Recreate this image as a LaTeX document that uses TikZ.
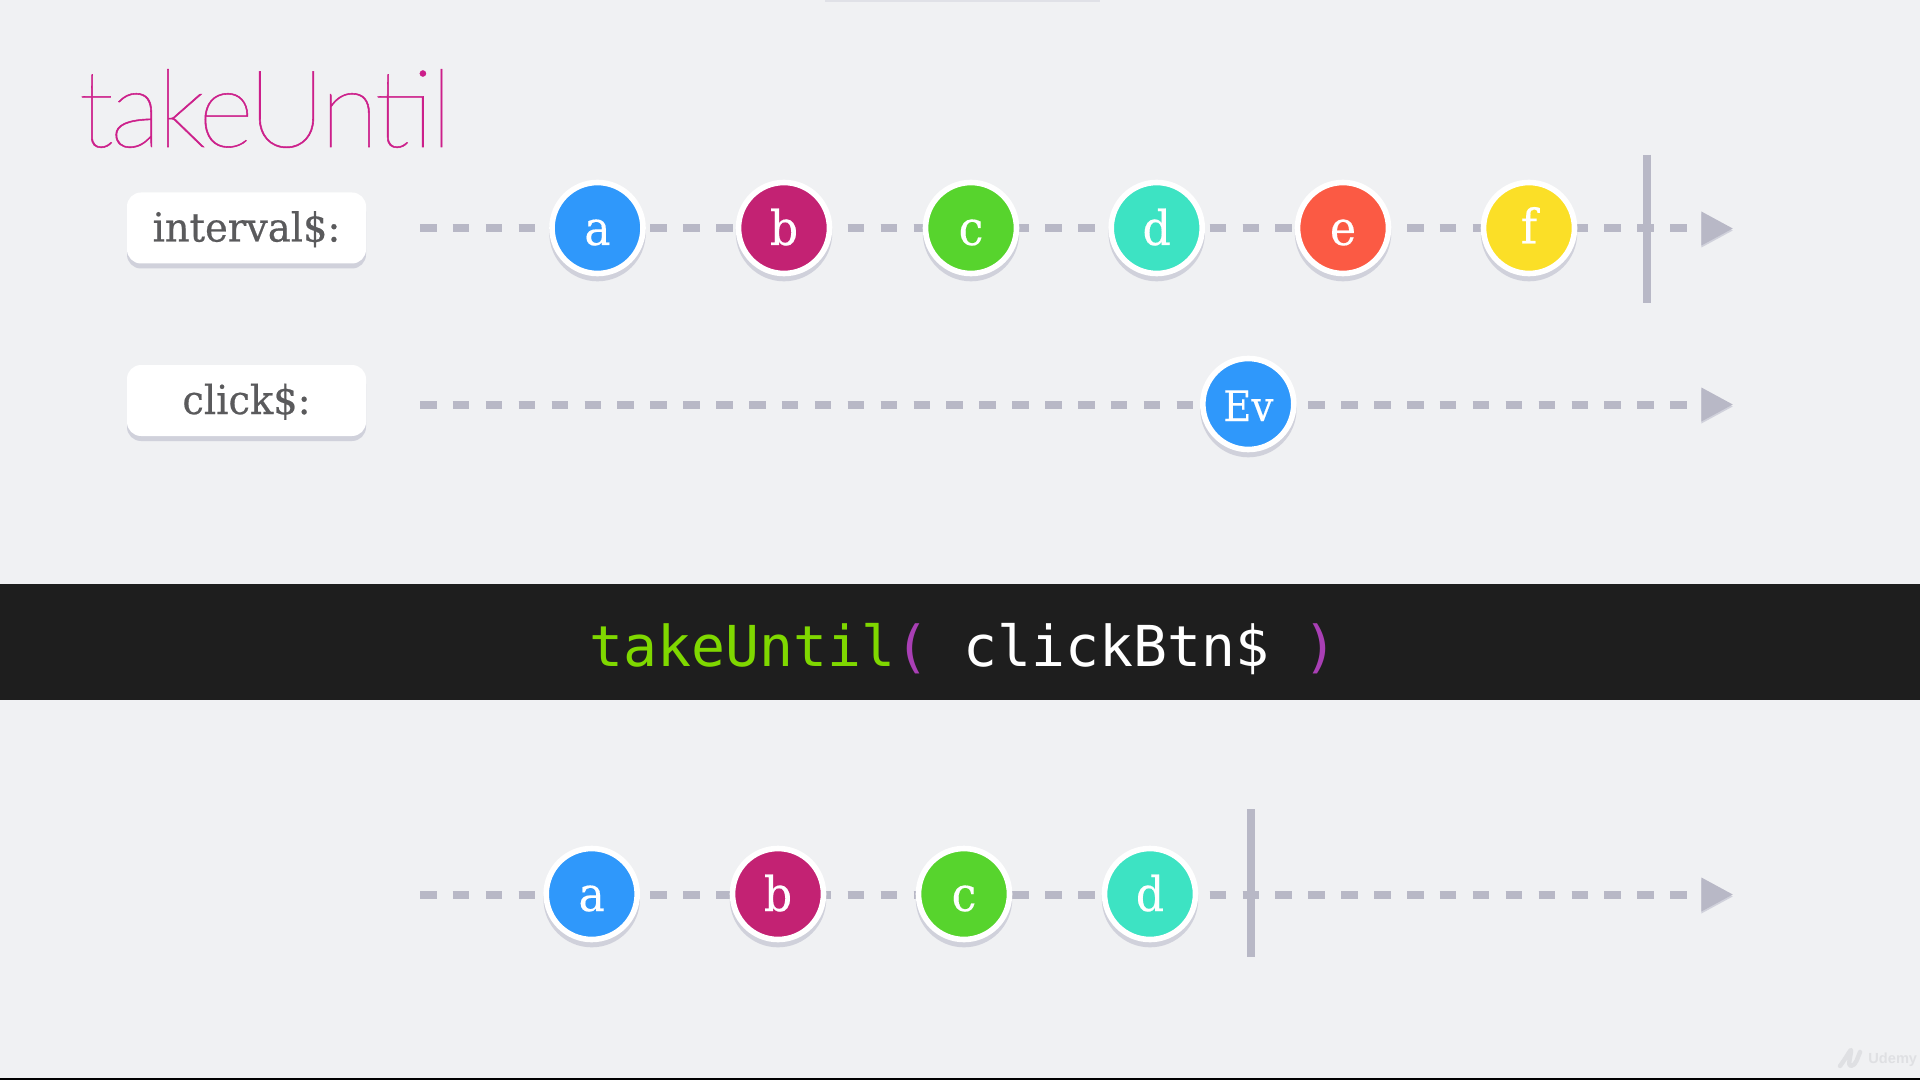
\documentclass[tikz,border=0pt]{standalone}
\usepackage{fontspec}
\usetikzlibrary{shapes.geometric,shadows}
\newfontfamily\thinfont[FakeBold=0.5,LetterSpace=-3.6]{Lato Hairline}
\newfontfamily\slabfont[FakeStretch=0.96,FakeBold=0.5]{DejaVu Serif}
\newfontfamily\marblefont[FakeStretch=0.92,FakeBold=0.3]{DejaVu Serif}
\newfontfamily\codefont{DejaVu Sans Mono}
\newfontfamily\wmfont{Liberation Sans}
\definecolor{bg}{HTML}{F0F1F3}
\definecolor{lineg}{HTML}{B8B8C6}
\definecolor{lineshadow}{HTML}{D0D1DB}
\definecolor{cblue}{HTML}{2F98FB}
\definecolor{cmag}{HTML}{C32273}
\definecolor{cgreen}{HTML}{57D42D}
\definecolor{cteal}{HTML}{3DE3C3}
\definecolor{cred}{HTML}{FB5A44}
\definecolor{cyellow}{HTML}{FBDF27}
\definecolor{band}{HTML}{1E1E1E}
\definecolor{codegreen}{HTML}{7FD800}
\definecolor{codepurple}{HTML}{A93FB5}
\definecolor{titlec}{HTML}{CC1F8A}
\definecolor{labeltext}{HTML}{5A5A5C}
\definecolor{wmark}{HTML}{DFE0E3}
\tikzset{
  marble/.style={circle,draw=white,line width=2.8pt,fill=#1,minimum size=45.5pt,inner sep=0pt,
    text=white,font=\marblefont\fontsize{24}{24}\selectfont,text height=17pt,text depth=0pt,align=center,
    drop shadow={shadow xshift=0pt,shadow yshift=-2.4pt,shadow scale=1.06,fill=lineshadow,opacity=1}},
  namebox/.style={rounded corners=7pt,fill=white,minimum width=119.5pt,minimum height=35.5pt,inner sep=0pt,
    text=labeltext,font=\slabfont\fontsize{20}{21}\selectfont,text height=13.5pt,text depth=0pt,
    drop shadow={shadow xshift=0pt,shadow yshift=-2.5pt,fill=lineshadow,opacity=1}},
  dashline/.style={line width=4pt,draw=lineg,dash pattern=on 8.25pt off 8.2pt},
  dashshadow/.style={line width=4pt,draw=lineshadow,dash pattern=on 8.25pt off 8.2pt,yshift=-1pt},
  tip/.style={isosceles triangle,isosceles triangle apex angle=57,fill=lineg,inner sep=0pt,
    minimum height=15.5pt,minimum width=17pt,anchor=west,
    drop shadow={shadow xshift=0pt,shadow yshift=-1pt,fill=lineshadow,opacity=1}},
  stopbar/.style={line width=4pt,draw=lineg},
  stopshadow/.style={line width=4pt,draw=lineshadow,yshift=-1pt},
}
\begin{document}
\begin{tikzpicture}[x=0.5pt,y=-0.5pt]
\useasboundingbox (0,0) rectangle (1920,1080);
\fill[bg] (0,0) rectangle (1920,1080);
\fill[lineshadow!50!bg] (825,0) rectangle (1100,2);
\fill[band] (0,584) rectangle (1920,700);
\fill[black] (0,1078) rectangle (1920,1080);
% title
\node[anchor=base west,inner sep=0pt,text=titlec,font=\thinfont\fontsize{54}{54}\selectfont] (title) at (78,147) {takeUntil};
% code
\node[anchor=base,inner sep=0pt,font=\codefont\fontsize{28.2}{28}\selectfont,text=white] (code) at (963.5,666)
  {\textcolor{codegreen}{takeUntil}\textcolor{codepurple}{(} clickBtn\$ \textcolor{codepurple}{)}};
% labels
\node[namebox] (l1) at (246.5,228) {interval\$:};
\node[namebox] (l2) at (246.5,400.5) {click\$:};
% line ends
\coordinate (s1) at (420,228.5);
\coordinate (s2) at (420,404.5);
\coordinate (s3) at (420,894.5);
\node[tip] (t1) at (1701,228.5) {};
\node[tip] (t2) at (1701,404.5) {};
\node[tip] (t3) at (1701,894.5) {};
% dashed lines
\foreach \n in {1,2,3}{
  \draw[dashshadow] (s\n) -- (t\n.west);
  \draw[dashline] (s\n) -- (t\n.west);
}
% stop bars
\coordinate (b1a) at (1647,155);
\coordinate (b1b) at (1647,303);
\coordinate (b3a) at (1251,809);
\coordinate (b3b) at (1251,957);
\draw[stopshadow] (b1a) -- (b1b);
\draw[stopshadow] (b3a) -- (b3b);
\draw[stopbar] (b1a) -- (b1b);
\draw[stopbar] (b3a) -- (b3b);
% marbles
\node[marble=cblue]   (a1) at (597.5,228) {a};
\node[marble=cmag]    (b1) at (784,228) {b};
\node[marble=cgreen]  (c1) at (971,228) {c};
\node[marble=cteal]   (d1) at (1156.7,228) {d};
\node[marble=cred]    (e1) at (1343,228) {e};
\node[marble=cyellow,text height=15.5pt] (f1) at (1529,228) {f};
\node[marble=cblue,font=\marblefont\fontsize{21}{21}\selectfont] (ev) at (1248.3,404) {Ev};
\node[marble=cblue]   (a3) at (591.7,894) {a};
\node[marble=cmag]    (b3) at (778,894) {b};
\node[marble=cgreen]  (c3) at (964,894) {c};
\node[marble=cteal]   (d3) at (1150,894) {d};
% watermark
\draw[line width=2.2pt,draw=wmark,line cap=round,line join=round]
  (1840,1066) .. controls (1846,1058) and (1850,1050) .. (1851,1050)
  .. controls (1851,1056) and (1847,1066) .. (1851,1066)
  .. controls (1856,1066) and (1858,1056) .. (1860,1052);
\node[anchor=base west,inner sep=0pt,text=wmark,font=\wmfont\bfseries\fontsize{7.3}{8}\selectfont] (wm) at (1868,1063) {Udemy};
\end{tikzpicture}
\end{document}
